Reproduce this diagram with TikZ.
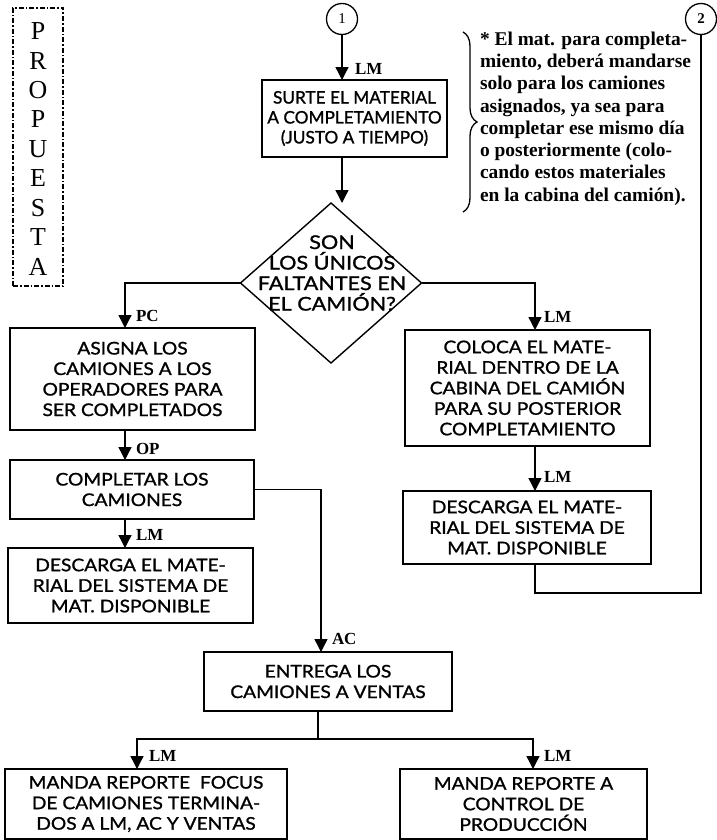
\documentclass[tikz,border=0pt]{standalone}
\usepackage{fontspec}
\setmainfont{Liberation Serif}
\newfontfamily\boxfont{Lato}[FakeStretch=1.1, FakeBold=1.2]
\newfontfamily\topfont{Lato}[FakeBold=1.2]
\newfontfamily\askfont{Lato}[FakeStretch=1.14, FakeBold=1.2]
\usetikzlibrary{arrows.meta,shapes.geometric,decorations.pathreplacing}

\begin{document}
\begin{tikzpicture}[x=1bp,y=-1bp,
  every node/.style={inner sep=0pt, outer sep=0pt},
  proc/.style={draw, line width=1.4bp, align=center,
    font=\boxfont\fontsize{17.5}{20.6}\selectfont},
  tag/.style={anchor=west, font=\bfseries\fontsize{17}{17}\selectfont},
  flow/.style={line width=1.4bp},
  arr/.style={flow, -{Triangle[width=13bp,length=13bp]}},
  conn/.style={draw, circle, line width=1.3bp, minimum size=31bp,
    font=\fontsize{15}{15}\selectfont},
  propbox/.style={draw, line width=1.6bp,
    dash pattern=on 5bp off 2bp on 1.5bp off 2bp}
]
\useasboundingbox (0,0) rectangle (717,840);

% side title
\node[propbox, minimum width=50bp, minimum height=278bp] (prop) at (38,147) {};
\node[align=center, font=\fontsize{26}{29.6}\selectfont] (proptext) at (38,149)
  {P\\R\\O\\P\\U\\E\\S\\T\\A};

% off-page connectors
\node[conn] (c1) at (342,19) {1};
\node[conn, font=\bfseries\fontsize{15}{15}\selectfont] (c2) at (701,19) {2};

% process boxes
\node[proc, font=\topfont\fontsize{17.3}{20}\selectfont, minimum width=185bp, minimum height=77bp] (b1) at (354.5,118.5)
  {SURTE EL MATERIAL\\A COMPLETAMIENTO\\(JUSTO A TIEMPO)};
\node[draw, diamond, line width=1.4bp, minimum width=181bp, minimum height=160bp] (d) at (331,283) {};
\node[align=center, font=\askfont\fontsize{19}{20.6}\selectfont] (dtext) at (332,273)
  {SON\\LOS ÚNICOS\\FALTANTES EN\\EL CAMIÓN?};
\node[proc, minimum width=245bp, minimum height=102bp] (b2) at (132.5,379)
  {ASIGNA LOS\\CAMIONES A LOS\\OPERADORES PARA\\SER COMPLETADOS};
\node[proc, minimum width=244bp, minimum height=59bp] (b3) at (132,489.5)
  {COMPLETAR LOS\\CAMIONES};
\node[proc, minimum width=245bp, minimum height=75bp] (b4) at (130.5,585.5)
  {DESCARGA EL MATE-\\RIAL DEL SISTEMA DE\\MAT. DISPONIBLE};
\node[proc, minimum width=245bp, minimum height=116bp] (b5) at (527.5,388)
  {COLOCA EL MATE-\\RIAL DENTRO DE LA\\CABINA DEL CAMIÓN\\PARA SU POSTERIOR\\COMPLETAMIENTO};
\node[proc, minimum width=248bp, minimum height=73bp] (b6) at (527,527.5)
  {DESCARGA EL MATE-\\RIAL DEL SISTEMA DE\\MAT. DISPONIBLE};
\node[proc, minimum width=248bp, minimum height=59bp] (b7) at (328,681.5)
  {ENTREGA LOS\\CAMIONES A VENTAS};
\node[proc, minimum width=282bp, minimum height=70bp] (b8) at (146,804)
  {MANDA REPORTE\ \ FOCUS\\DE CAMIONES TERMINA-\\DOS A LM, AC Y VENTAS};
\node[proc, minimum width=247bp, minimum height=70bp] (b9) at (523.5,804)
  {MANDA REPORTE A\\CONTROL DE\\PRODUCCIÓN};

% note with its brace
\coordinate (brT) at (463,32);
\coordinate (brB) at (463,212);
\draw[line width=1.3bp, decorate, decoration={brace, amplitude=14bp}] (brT) -- (brB);
\node[anchor=north west, align=left, font=\bfseries\fontsize{19.5}{22.3}\selectfont] (note) at (480,32)
  {* El mat. para completa-\\miento, deberá mandarse\\solo para los camiones\\asignados, ya sea para\\completar ese mismo día\\o posteriormente (colo-\\cando estos materiales\\en la cabina del camión).};

% routing columns
\coordinate (xL) at (125,0);
\coordinate (xM) at (321,0);
\coordinate (xR) at (535,0);
\coordinate (loop) at (701,593);
\coordinate (split) at (318,739);
\coordinate (xB1) at (137,0);
\coordinate (xB2) at (533,0);

% connectors
\draw[arr] (c1.south) -- (c1.south |- b1.north);
\draw[arr] (b1.south -| c1.south) -- (c1.south |- d.north);
\draw[arr] (d.west) -| (xL |- b2.north);
\draw[arr] (xL |- b2.south) -- (xL |- b3.north);
\draw[arr] (xL |- b3.south) -- (xL |- b4.north);
\draw[arr] (b3.east) -| (xM |- b7.north);
\draw[arr] (d.east) -| (xR |- b5.north);
\draw[arr] (xR |- b5.south) -- (xR |- b6.north);
\draw[flow] (xR |- b6.south) -- (xR |- loop) -- (loop) -- (c2.south);
\draw[flow] (split |- b7.south) -- (split);
\draw[arr] (split) -| (xB1 |- b8.north);
\draw[arr] (split) -| (xB2 |- b9.north);

% responsible-area tags
\node[tag] (t1) at (355,69) {LM};
\node[tag] (t2) at (136,316) {PC};
\node[tag] (t3) at (136,449) {OP};
\node[tag] (t4) at (136,535) {LM};
\node[tag] (t5) at (332,639) {AC};
\node[tag] (t6) at (544,317) {LM};
\node[tag] (t7) at (544,477) {LM};
\node[tag] (t8) at (149,756) {LM};
\node[tag] (t9) at (544,756) {LM};
\end{tikzpicture}
\end{document}
